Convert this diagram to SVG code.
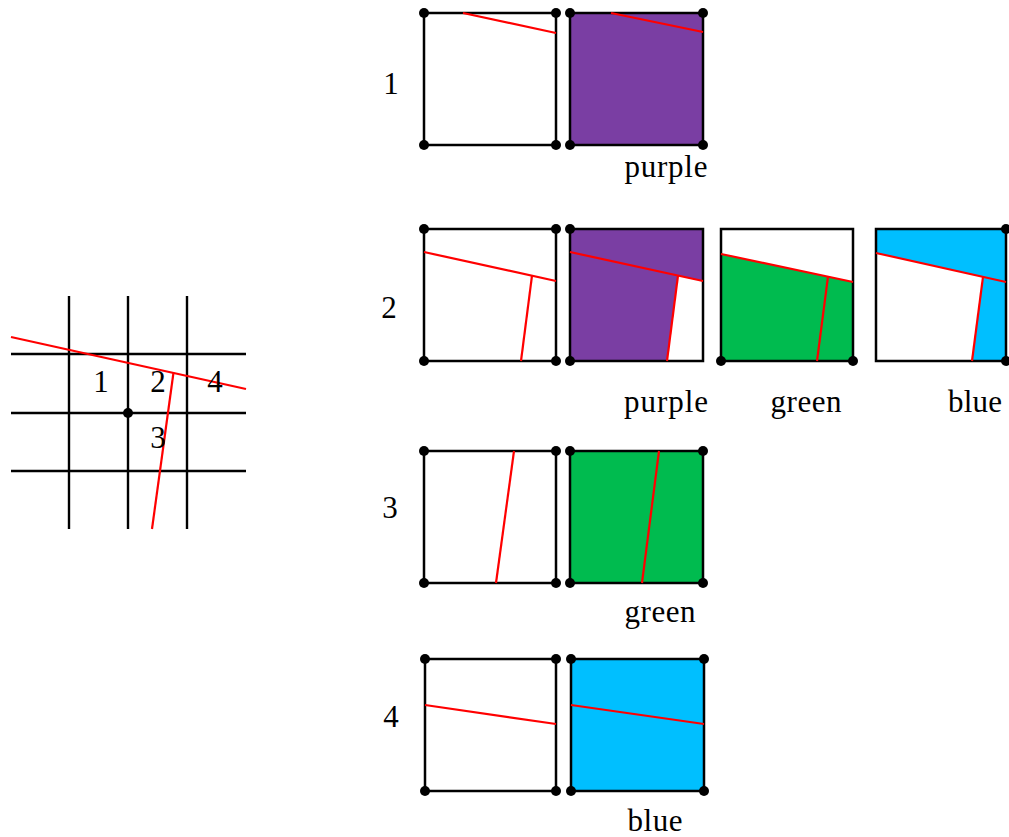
<svg xmlns="http://www.w3.org/2000/svg" width="1009" height="837" viewBox="0 0 1009 837">
<style>
.g{stroke:#000;stroke-width:2.4;fill:none}
.sq{stroke:#000;stroke-width:2.5;fill:none}
.r{stroke:#ff0000;stroke-width:2.2;fill:none}
.d{fill:#000}
.t{font-family:"Liberation Serif","Times New Roman",serif;font-size:31px;fill:#000;text-anchor:middle}
.pu{fill:#7a3ea3}
.gr{fill:#00bb4f}
.bl{fill:#00bfff}
</style>
<rect width="1009" height="837" fill="#fff"/>

<g id="grid">
  <line class="g" x1="69" y1="296" x2="69" y2="529"/>
  <line class="g" x1="128" y1="296" x2="128" y2="529"/>
  <line class="g" x1="187" y1="296" x2="187" y2="529"/>
  <line class="g" x1="11" y1="354" x2="246" y2="354"/>
  <line class="g" x1="11" y1="413" x2="246" y2="413"/>
  <line class="g" x1="11" y1="471" x2="246" y2="471"/>
  <line class="r" x1="11" y1="337" x2="246" y2="389"/>
  <line class="r" x1="152" y1="529" x2="173.5" y2="372.5"/>
  <circle class="d" cx="128" cy="413" r="5"/>
  <text class="t" x="101" y="392">1</text>
  <text class="t" x="158" y="392">2</text>
  <text class="t" x="215" y="392">4</text>
  <text class="t" x="158" y="448">3</text>
</g>

<g id="row-labels">
  <text class="t" x="391" y="94">1</text>
  <text class="t" x="389" y="318">2</text>
  <text class="t" x="390" y="518">3</text>
  <text class="t" x="391" y="727">4</text>
</g>

<g id="row1">
  <g id="r1-cell">
    <rect class="sq" x="424" y="13" width="132" height="132"/>
    <line class="r" x1="463" y1="13" x2="556" y2="33"/>
    <circle class="d" cx="424" cy="13" r="5"/><circle class="d" cx="556" cy="13" r="5"/>
    <circle class="d" cx="424" cy="145" r="5"/><circle class="d" cx="556" cy="145" r="5"/>
  </g>
  <g id="r1-purple">
    <rect class="pu" x="570" y="13" width="133" height="132"/>
    <rect class="sq" x="570" y="13" width="133" height="132"/>
    <line class="r" x1="611" y1="13" x2="703" y2="32"/>
    <circle class="d" cx="570" cy="13" r="5"/><circle class="d" cx="703" cy="13" r="5"/>
    <circle class="d" cx="570" cy="145" r="5"/><circle class="d" cx="703" cy="145" r="5"/>
    <text class="t" x="666" y="177" textLength="83">purple</text>
  </g>
</g>

<g id="row2">
  <g id="r2-cell">
    <rect class="sq" x="424" y="229" width="132" height="132"/>
    <line class="r" x1="424" y1="252" x2="556" y2="281"/>
    <line class="r" x1="532" y1="275.7" x2="521" y2="361"/>
    <circle class="d" cx="424" cy="229" r="5"/><circle class="d" cx="556" cy="229" r="5"/>
    <circle class="d" cx="424" cy="361" r="5"/><circle class="d" cx="556" cy="361" r="5"/>
  </g>
  <g id="r2-purple">
    <polygon class="pu" points="570,229 703,229 703,281 678,275.5 667,361 570,361"/>
    <rect class="sq" x="570" y="229" width="133" height="132"/>
    <line class="r" x1="570" y1="252" x2="703" y2="281"/>
    <line class="r" x1="678" y1="275.5" x2="667" y2="361"/>
    <circle class="d" cx="570" cy="229" r="5"/><circle class="d" cx="570" cy="361" r="5"/>
    <text class="t" x="666" y="412" textLength="84">purple</text>
  </g>
  <g id="r2-green">
    <polygon class="gr" points="721,254 853,282 853,361 721,361"/>
    <rect class="sq" x="721" y="229" width="132" height="132"/>
    <line class="r" x1="721" y1="254" x2="853" y2="282"/>
    <line class="r" x1="828" y1="276.7" x2="817" y2="361"/>
    <circle class="d" cx="721" cy="361" r="5"/><circle class="d" cx="853" cy="361" r="5"/>
    <text class="t" x="806" y="412" textLength="71">green</text>
  </g>
  <g id="r2-blue">
    <polygon class="bl" points="876,229 1006,229 1006,361 972,361 983,276.9 876,253"/>
    <rect class="sq" x="876" y="229" width="130" height="132"/>
    <line class="r" x1="876" y1="253" x2="1006" y2="282"/>
    <line class="r" x1="983" y1="276.9" x2="972" y2="361"/>
    <circle class="d" cx="1006" cy="229" r="5"/><circle class="d" cx="1006" cy="361" r="5"/>
    <text class="t" x="975" y="412" textLength="54">blue</text>
  </g>
</g>

<g id="row3">
  <g id="r3-cell">
    <rect class="sq" x="424" y="451" width="132" height="132"/>
    <line class="r" x1="514" y1="451" x2="496" y2="583"/>
    <circle class="d" cx="424" cy="451" r="5"/><circle class="d" cx="556" cy="451" r="5"/>
    <circle class="d" cx="424" cy="583" r="5"/><circle class="d" cx="556" cy="583" r="5"/>
  </g>
  <g id="r3-green">
    <rect class="gr" x="570" y="451" width="133" height="132"/>
    <rect class="sq" x="570" y="451" width="133" height="132"/>
    <line class="r" x1="659" y1="451" x2="642" y2="583"/>
    <circle class="d" cx="570" cy="451" r="5"/><circle class="d" cx="703" cy="451" r="5"/>
    <circle class="d" cx="570" cy="583" r="5"/><circle class="d" cx="703" cy="583" r="5"/>
    <text class="t" x="660" y="622" textLength="71">green</text>
  </g>
</g>

<g id="row4">
  <g id="r4-cell">
    <rect class="sq" x="425" y="659" width="131" height="132"/>
    <line class="r" x1="425" y1="705" x2="556" y2="724"/>
    <circle class="d" cx="425" cy="659" r="5"/><circle class="d" cx="556" cy="659" r="5"/>
    <circle class="d" cx="425" cy="791" r="5"/><circle class="d" cx="556" cy="791" r="5"/>
  </g>
  <g id="r4-blue">
    <rect class="bl" x="571" y="659" width="133" height="132"/>
    <rect class="sq" x="571" y="659" width="133" height="132"/>
    <line class="r" x1="571" y1="705" x2="704" y2="724"/>
    <circle class="d" cx="571" cy="659" r="5"/><circle class="d" cx="704" cy="659" r="5"/>
    <circle class="d" cx="571" cy="791" r="5"/><circle class="d" cx="704" cy="791" r="5"/>
    <text class="t" x="655" y="831" textLength="55">blue</text>
  </g>
</g>
</svg>
